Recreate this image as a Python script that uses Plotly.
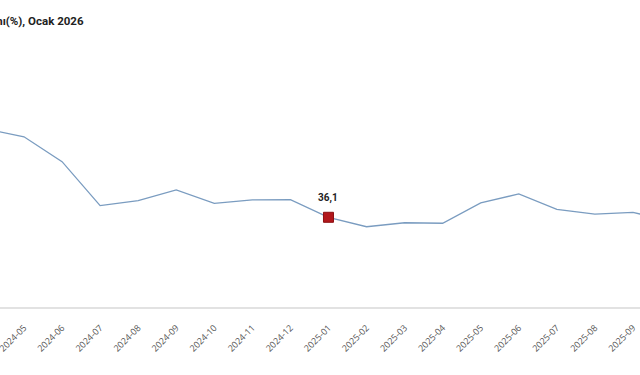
import plotly.graph_objects as go

months = ["2024-04", "2024-05", "2024-06", "2024-07", "2024-08", "2024-09", "2024-10",
          "2024-11", "2024-12", "2025-01", "2025-02", "2025-03", "2025-04", "2025-05",
          "2025-06", "2025-07", "2025-08", "2025-09", "2025-10"]
values = [71.6, 68.5, 58.5, 40.8, 42.8, 47.1, 41.7, 43.1, 43.2, 36.1, 32.3, 33.9, 33.7,
          41.9, 45.5, 39.3, 37.4, 38.1, 34.4]
highlight_month = "2025-01"
highlight_value = 36.1
highlight_label = "36,1"
title_text = "Yıllık değişim oranı(%), Ocak 2026"

fig = go.Figure()
fig.add_trace(go.Scatter(
    x=months, y=values, mode="lines",
    line=dict(color="#7a9cc0", width=1.3),
    hoverinfo="skip", showlegend=False,
))
fig.add_trace(go.Scatter(
    x=[highlight_month], y=[highlight_value], mode="markers",
    marker=dict(symbol="square", size=10, color="#b2171c",
                line=dict(color="#8c0f12", width=1)),
    hoverinfo="skip", showlegend=False,
))
fig.add_annotation(
    x=highlight_month, y=highlight_value, text="<b>" + highlight_label + "</b>",
    showarrow=False, yshift=19,
    font=dict(family="Roboto, sans-serif", size=10, color="#222222"),
)
fig.add_annotation(
    xref="paper", yref="paper", x=86 / 640, y=1.0, yshift=19,
    xanchor="right", yanchor="middle",
    text="<b>" + title_text + "</b>", showarrow=False,
    font=dict(family="Roboto, sans-serif", size=11.5, color="#222222"),
)

spacing = 38.06
start = 1 - 24 / spacing
fig.update_layout(
    width=640, height=375,
    margin=dict(l=0, r=0, t=40, b=68, autoexpand=False),
    paper_bgcolor="white", plot_bgcolor="white",
    xaxis=dict(
        type="category", range=[start, start + 640 / spacing],
        automargin=False,
        showgrid=False, zeroline=False,
        showline=True, linecolor="#e2e2e2", linewidth=2,
        tickangle=-45, ticks="", ticklabelstandoff=10,
        tickfont=dict(family="Open Sans, sans-serif", size=9, color="#555555"),
    ),
    yaxis=dict(range=[0, 267 / 2.485], visible=False, fixedrange=True, automargin=False),
)
fig.write_html("out.html", config={"displayModeBar": False},
               post_script="document.body.style.margin='0';")
